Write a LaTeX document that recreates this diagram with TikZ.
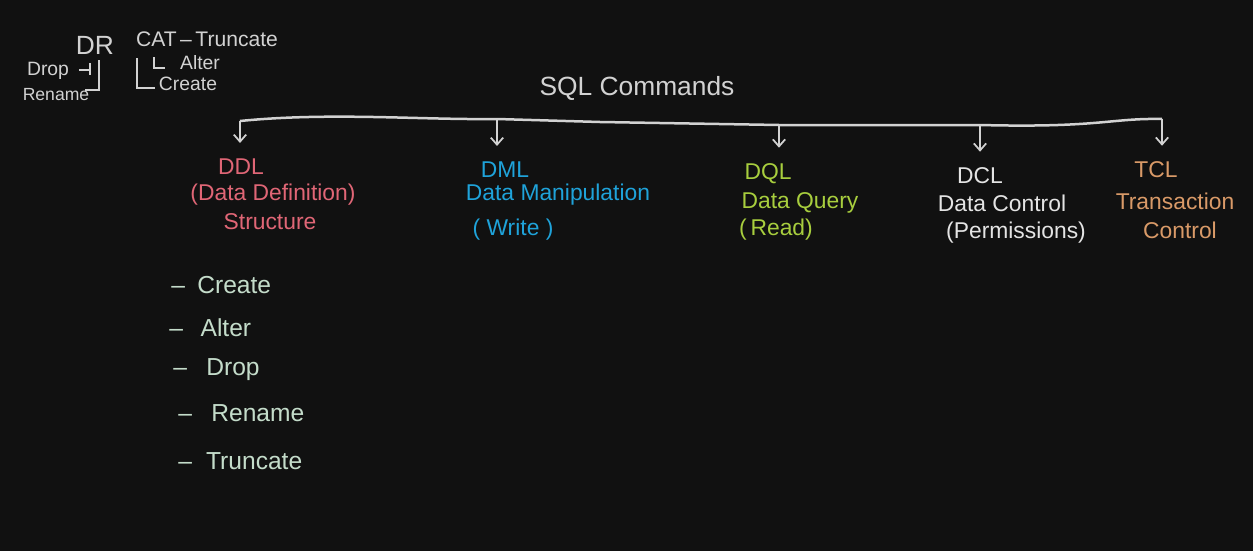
\documentclass[tikz,border=0pt]{standalone}
\usepackage{fontspec}
\setmainfont{Liberation Sans}
\usetikzlibrary{arrows.meta}

\definecolor{board}{HTML}{111111}
\definecolor{chalk}{HTML}{D2D2D2}
\definecolor{ddlcol}{HTML}{E06676}
\definecolor{dmlcol}{HTML}{1FA3DA}
\definecolor{dqlcol}{HTML}{A8CE3E}
\definecolor{dclcol}{HTML}{E4E4E4}
\definecolor{tclcol}{HTML}{D99A68}
\definecolor{listcol}{HTML}{C4DCCA}

\tikzset{
    txt/.style={inner sep=0pt, font=\fontsize{13}{15}\selectfont},
    item/.style={txt, anchor=west, listcol, font=\fontsize{14}{16}\selectfont},
    branch/.style={-{Straight Barb[length=4pt,width=7pt]}, chalk, line width=0.35mm, shorten >=9pt},
    tick/.style={chalk, line width=0.3mm}
}

\begin{document}
\begin{tikzpicture}[x=0.02cm,y=-0.02cm]
        \fill[board] (0,0) rectangle (1253,551);

        % side note
        \node[txt, chalk, font=\fontsize{15}{17}\selectfont] (dr) at (95,45) {DR};
        \node[txt, chalk, font=\fontsize{12}{14}\selectfont] (cat) at (207,39) {CAT\,–\,Truncate};
        \node[txt, chalk, font=\fontsize{11}{13}\selectfont] (drop) at (48,71) {Drop};
        \node[txt, chalk, font=\fontsize{10}{12}\selectfont] (rename) at (56,95) {Rename};
        \node[txt, chalk, font=\fontsize{11}{13}\selectfont] (alter) at (200,63) {Alter};
        \node[txt, chalk, font=\fontsize{11}{13}\selectfont] (create) at (188,84) {Create};
        \draw[tick] (79,70) -- (90,70) (90,63) -- (90,75);
        \draw[tick] (99,60) -- (99,90) -- (85,90);
        \draw[tick] (137,58) -- (137,88) -- (155,88);
        \draw[tick] (154,57) -- (154,68) -- (165,68);

        % title and bar
        \node[txt, chalk, font=\fontsize{15}{17}\selectfont] (sql) at (637,88) {SQL Commands};
        \coordinate (b1) at (240,121);
        \coordinate (b2) at (497,119);
        \coordinate (b3) at (779,125);
        \coordinate (b4) at (980,125);
        \coordinate (b5) at (1162,119);
        \draw[chalk, line width=0.5mm] (b1) .. controls (330,112) and (420,120) .. (b2) -- (600,122) -- (b3) -- (b4) .. controls (1100,128) and (1110,118) .. (b5);

        % DDL
        \node[txt, ddlcol] (ddl) at (241,167) {DDL};
        \node[txt, ddlcol] (ddldef) at (273,195) {(Data Definition)};
        \node[txt, ddlcol] (ddlstr) at (270,222) {Structure};
        % DML
        \node[txt, dmlcol] (dml) at (505,170) {DML};
        \node[txt, dmlcol] (dmldef) at (558,195) {Data Manipulation};
        \node[txt, dmlcol] (dmlwr) at (513,230) {(\ Write\ )};
        % DQL
        \node[txt, dqlcol] (dql) at (768,174) {DQL};
        \node[txt, dqlcol] (dqldef) at (800,203) {Data Query};
        \node[txt, dqlcol] (dqlrd) at (776,230) {(\,Read)};
        % DCL
        \node[txt, dclcol] (dcl) at (980,176) {DCL};
        \node[txt, dclcol] (dcldef) at (1002,203) {Data Control};
        \node[txt, dclcol] (dclperm) at (1016,233) {(Permissions)};
        % TCL
        \node[txt, tclcol] (tcl) at (1156,170) {TCL};
        \node[txt, tclcol] (tcldef) at (1175,201) {Transaction};
        \node[txt, tclcol] (tclctl) at (1180,230) {Control};

        \draw[branch] (b1) -- (b1 |- ddl.north);
        \draw[branch] (b2) -- (b2 |- dml.north);
        \draw[branch] (b3) -- (b3 |- dql.north);
        \draw[branch] (b4) -- (b4 |- dcl.north);
        \draw[branch] (b5) -- (b5 |- tcl.north);

        % DDL commands
        \node[item] (i1) at (171,285) {–\hspace{7pt}Create};
        \node[item] (i2) at (169,328) {–\hspace{10pt}Alter};
        \node[item] (i3) at (173,370) {–\hspace{11pt}Drop};
        \node[item] (i4) at (178,413) {–\hspace{11pt}Rename};
        \node[item] (i5) at (178,461) {–\hspace{8pt}Truncate};
    \end{tikzpicture}
\end{document}
